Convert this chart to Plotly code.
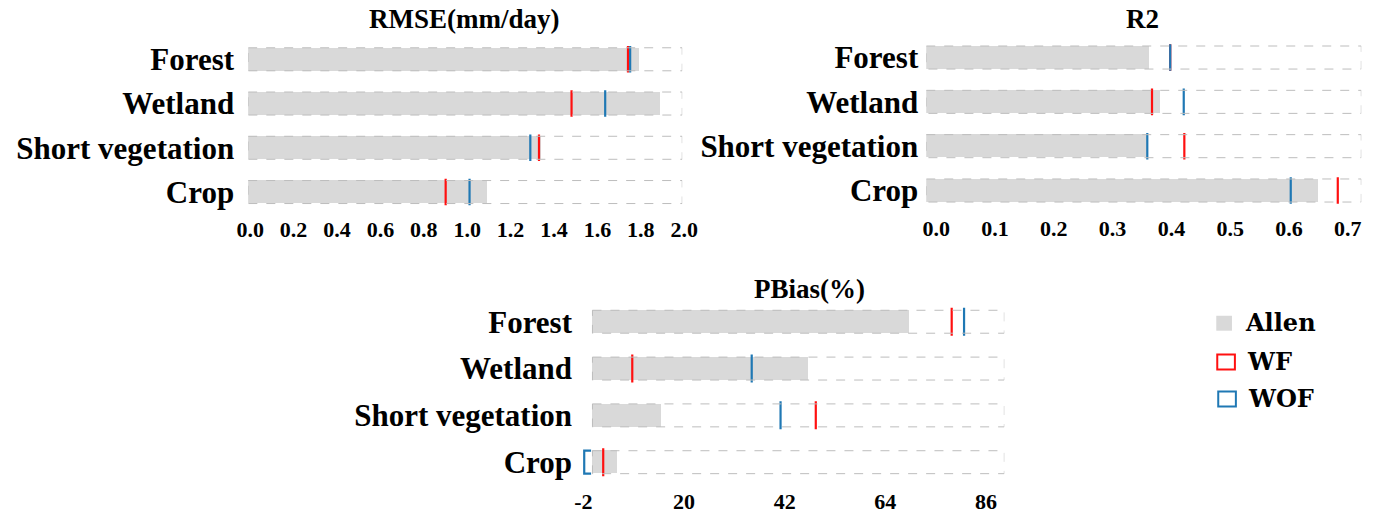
import plotly.graph_objects as go

# ---- data ----
categories = ["Forest", "Wetland", "Short vegetation", "Crop"]

rmse_allen = [1.80, 1.90, 1.35, 1.10]
rmse_wf = [1.75, 1.49, 1.34, 0.91]
rmse_wof = [1.76, 1.645, 1.30, 1.02]
rmse_ticks = [0.0, 0.2, 0.4, 0.6, 0.8, 1.0, 1.2, 1.4, 1.6, 1.8, 2.0]
rmse_ticklabels = ["0.0", "0.2", "0.4", "0.6", "0.8", "1.0", "1.2", "1.4", "1.6", "1.8", "2.0"]

r2_allen = [0.380, 0.398, 0.377, 0.666]
r2_wf = [0.415, 0.384, 0.439, 0.700]
r2_wof = [0.415, 0.438, 0.376, 0.620]
r2_ticks = [0.0, 0.1, 0.2, 0.3, 0.4, 0.5, 0.6, 0.7]
r2_ticklabels = ["0.0", "0.1", "0.2", "0.3", "0.4", "0.5", "0.6", "0.7"]

pbias_allen = [69.1, 47.2, 14.9, 5.3]
pbias_wf = [78.5, 8.7, 48.8, 2.35]
pbias_wof = [81.2, 34.8, 41.1, -1.8]
pbias_ticks = [-2, 20, 42, 64, 86]
pbias_ticklabels = ["-2", "20", "42", "64", "86"]

series_names = ["Allen", "WF", "WOF"]

# ---- styling ----
W, H = 1392, 514
GREY = "#d9d9d9"
RED = "#ff1010"
BLUE = "#1f78b4"
BOX = "#bdbdbd"
SERIF = "Liberation Serif"
LEGEND_FONT = "DejaVu Serif"


def px_x(p):
    return p / W


def px_y(p):
    return 1 - p / H


panels = [
    dict(allen=rmse_allen, wf=rmse_wf, wof=rmse_wof, title="RMSE(mm/day)",
         ticks=rmse_ticks, ticklabels=rmse_ticklabels,
         xpx=(241, 684), ypx=(37.3, 215.0), xrange=[0, 2.0], box=(0, 2.0),
         shift=2, half=0.26, msize=19, title_xy=(462, 19), standoff=13),
    dict(allen=r2_allen, wf=r2_wf, wof=r2_wof, title="R2",
         ticks=r2_ticks, ticklabels=r2_ticklabels,
         xpx=(933, 1377), ypx=(35.5, 213.5), xrange=[0, 0.74], box=(0, 0.74),
         shift=10, half=0.26, msize=19, title_xy=(1154, 19), standoff=7),
    dict(allen=pbias_allen, wf=pbias_wf, wof=pbias_wof, title="PBias(%)",
         ticks=pbias_ticks, ticklabels=pbias_ticklabels,
         xpx=(580.7, 1012.7), ypx=(299.5, 487.5), xrange=[-2.5, 90], box=(0, 90),
         shift=0, half=0.245, msize=20, title_xy=(814, 290), standoff=8),
]

fig = go.Figure()
shapes = []
annotations = []
rows = list(range(len(categories)))

for k, p in enumerate(panels):
    sfx = "" if k == 0 else str(k + 1)
    xa, ya = "x" + sfx, "y" + sfx

    fig.add_trace(go.Bar(
        x=p["allen"], y=rows, orientation="h", width=2 * p["half"],
        marker=dict(color=GREY, line=dict(width=0)),
        name=series_names[0], showlegend=False, xaxis=xa, yaxis=ya,
    ))

    for vals, color, nm in ((p["wf"], RED, series_names[1]), (p["wof"], BLUE, series_names[2])):
        inside = [(v, r) for v, r in zip(vals, rows) if v >= p["box"][0]]
        outside = [(v, r) for v, r in zip(vals, rows) if v < p["box"][0]]
        if inside:
            fig.add_trace(go.Scatter(
                x=[v for v, _ in inside], y=[r for _, r in inside], mode="markers",
                marker=dict(symbol="line-ns", size=p["msize"],
                            line=dict(color=color, width=2.2)),
                name=nm, showlegend=False, xaxis=xa, yaxis=ya,
            ))
        # values left of the panel frame are drawn as a small bracket
        for v, r in outside:
            h = p["half"]
            fig.add_trace(go.Scatter(
                x=[v + 1.5, v, v, v + 1.5], y=[r - h, r - h, r + h, r + h],
                mode="lines", line=dict(color=color, width=2.2),
                name=nm, showlegend=False, xaxis=xa, yaxis=ya,
            ))

    # dashed frame around every row
    for r in rows:
        shapes.append(dict(
            type="rect", xref=xa, yref=ya, x0=p["box"][0], x1=p["box"][1],
            y0=r - p["half"], y1=r + p["half"], layer="above",
            line=dict(color=BOX, width=1, dash="dash"), fillcolor="rgba(0,0,0,0)",
        ))

    x0, x1 = p["xpx"]
    yt, yb = p["ypx"]
    fig.update_layout(**{
        "xaxis" + sfx: dict(
            domain=[px_x(x0), px_x(x1)], range=p["xrange"], anchor=ya,
            showgrid=False, zeroline=False, showline=False, ticks="",
            tickmode="array", tickvals=p["ticks"], ticktext=p["ticklabels"],
            tickfont=dict(family=SERIF, size=22, color="black", weight="bold"),
            ticklabelshift=p["shift"], ticklabelstandoff=0, fixedrange=True,
        ),
        "yaxis" + sfx: dict(
            domain=[px_y(yb), px_y(yt)], range=[len(categories) - 0.5, -0.5],
            anchor=xa, showgrid=False, zeroline=False, showline=False, ticks="",
            tickmode="array", tickvals=rows, ticktext=categories,
            tickfont=dict(family=SERIF, size=31, color="black", weight="bold"),
            ticklabelstandoff=p["standoff"], fixedrange=True,
        ),
    })

    tx, ty = p["title_xy"]
    annotations.append(dict(
        text=p["title"], x=px_x(tx), y=px_y(ty), xref="paper", yref="paper",
        xanchor="center", yanchor="middle", showarrow=False,
        font=dict(family=SERIF, size=27, color="black", weight="bold"),
    ))

# legend
legend_items = [
    (series_names[0], dict(fillcolor=GREY, line=dict(width=0)), (1229, 1245, 317, 332), (1256, 324)),
    (series_names[1], dict(fillcolor="white", line=dict(color=RED, width=2)), (1230, 1248, 356, 371), (1258, 363)),
    (series_names[2], dict(fillcolor="white", line=dict(color=BLUE, width=2)), (1231, 1249, 393, 408), (1259, 400)),
]
for label, style, (sx0, sx1, sy0, sy1), (lx, ly) in legend_items:
    shapes.append(dict(type="rect", xref="paper", yref="paper",
                       x0=px_x(sx0), x1=px_x(sx1), y0=px_y(sy1), y1=px_y(sy0), **style))
    annotations.append(dict(
        text=label, x=px_x(lx), y=px_y(ly), xref="paper", yref="paper",
        xanchor="left", yanchor="middle", showarrow=False,
        font=dict(family=LEGEND_FONT, size=24, color="black", weight="bold"),
    ))

fig.update_layout(
    width=W, height=H, margin=dict(l=0, r=0, t=0, b=0),
    paper_bgcolor="white", plot_bgcolor="white",
    showlegend=False, barmode="overlay", bargap=0,
    shapes=shapes, annotations=annotations,
)

fig.write_html("out.html", config={"displayModeBar": False})
